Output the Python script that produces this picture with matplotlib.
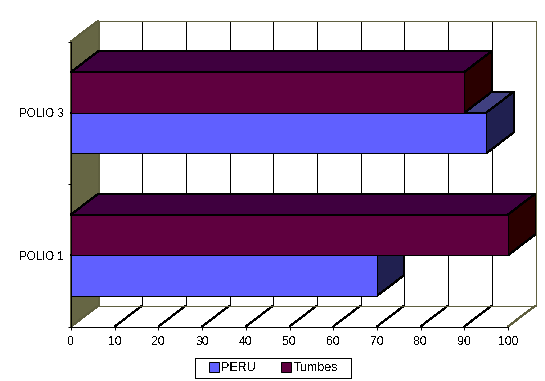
import matplotlib
matplotlib.use("Agg")
import matplotlib.pyplot as plt
from matplotlib.patches import Polygon, Patch, Rectangle

plt.rcParams['font.family'] = ['Liberation Sans', 'DejaVu Sans']
plt.rcParams['text.antialiased'] = False

categories = ['POLIO 1', 'POLIO 3']
series_names = ['PERU', 'Tumbes']
peru = [70, 95]
tumbes = [100, 90]
x_ticks = [0, 10, 20, 30, 40, 50, 60, 70, 80, 90, 100]

W, H = 545, 381
fig = plt.figure(figsize=(W / 100, H / 100), dpi=100, facecolor='white')
ax = fig.add_axes([71.0 / W, 1 - 326.5 / H, 437 / W, 285 / H])
ax.set_xlim(0, 100)
ax.set_ylim(0, len(categories))

# depth offset of the 3D box, in data units
DX = 27.5 / 4.37
DY = 21 / 142.5
AA = False
OLIVE = '#5f5f3f'
LW = 0.72


def poly(pts, fc, ec='black', z=2, lw=LW):
    ax.add_patch(Polygon(pts, closed=True, facecolor=fc, edgecolor=ec, linewidth=lw,
                         clip_on=False, zorder=z, antialiased=AA))


def line(xs, ys, color='black', z=1.5):
    ax.plot(xs, ys, color=color, lw=LW, clip_on=False, zorder=z, antialiased=AA,
            solid_capstyle='butt')


ymax = len(categories)
# left wall
poly([(0, 0), (DX, DY), (DX, ymax + DY), (0, ymax)], '#666644', ec='#5f5f3f', z=1.2)
# back wall grid + floor lines
for t in x_ticks[1:-1]:
    line([t + DX, t + DX], [DY, ymax + DY])
    line([t, t + DX], [0, DY])
line([100 + DX, 100 + DX], [DY, ymax + DY], OLIVE)
line([100, 100 + DX], [0, DY], OLIVE)
line([DX, 100 + DX], [DY, DY], OLIVE)
line([DX, 100 + DX], [ymax + DY, ymax + DY], OLIVE)
line([DX, DX], [DY, ymax + DY], OLIVE)

BAR_H = 1 / 3.5
GAP = (1 - 2 * BAR_H) / 2
styles = {
    'PERU': ('#6060ff', '#404080', '#202050'),
    'Tumbes': ('#5f003f', '#3f003f', '#2a0000'),
}


def bar3d(val, y0, colors, z):
    front, top, side = colors
    y1 = y0 + BAR_H
    poly([(0, y1), (val, y1), (val + DX, y1 + DY), (DX, y1 + DY)], top, z=z)
    poly([(val, y0), (val + DX, y0 + DY), (val + DX, y1 + DY), (val, y1)], side, z=z)
    poly([(0, y0), (val, y0), (val, y1), (0, y1)], front, z=z)


for i in range(len(categories)):
    bar3d(peru[i], i + GAP, styles['PERU'], 3 + i * 2)
    bar3d(tumbes[i], i + GAP + BAR_H, styles['Tumbes'], 4 + i * 2)

for s in ('top', 'right'):
    ax.spines[s].set_visible(False)
for s in ('left', 'bottom'):
    ax.spines[s].set_linewidth(LW)
    ax.spines[s].set_zorder(10)
    ax.spines[s].set_antialiased(AA)

ax.set_xticks(x_ticks)
ax.set_xticklabels([str(t) for t in x_ticks], fontsize=8.8)
ax.set_yticks(range(ymax + 1))
ax.set_yticklabels([''] * (ymax + 1))
ax.set_yticks([i + 0.5 for i in range(ymax)], labels=categories, minor=True, fontsize=8.3)
ax.tick_params(axis='y', which='minor', length=0, pad=5.5)
ax.tick_params(axis='x', which='major', length=2.5, width=LW, pad=4.5)
ax.tick_params(axis='y', which='major', length=2.5, width=LW)

fig.add_artist(Rectangle((195 / W, 1 - 378 / H), 156 / W, 20 / H, transform=fig.transFigure,
                         facecolor='white', edgecolor='black', linewidth=LW, antialiased=AA))
handles = [Patch(facecolor=styles[n][0], edgecolor='black', linewidth=LW, label=n)
           for n in series_names]
leg = fig.legend(handles=handles, loc='center', ncol=2,
                 bbox_to_anchor=(273.5 / W, 1 - 368 / H), bbox_transform=fig.transFigure,
                 frameon=False, fontsize=9,
                 handlelength=0.75, handleheight=0.8, handletextpad=0.2,
                 columnspacing=2.05, borderpad=0, borderaxespad=0)

fig.savefig('out.png', dpi=100, facecolor='white')
